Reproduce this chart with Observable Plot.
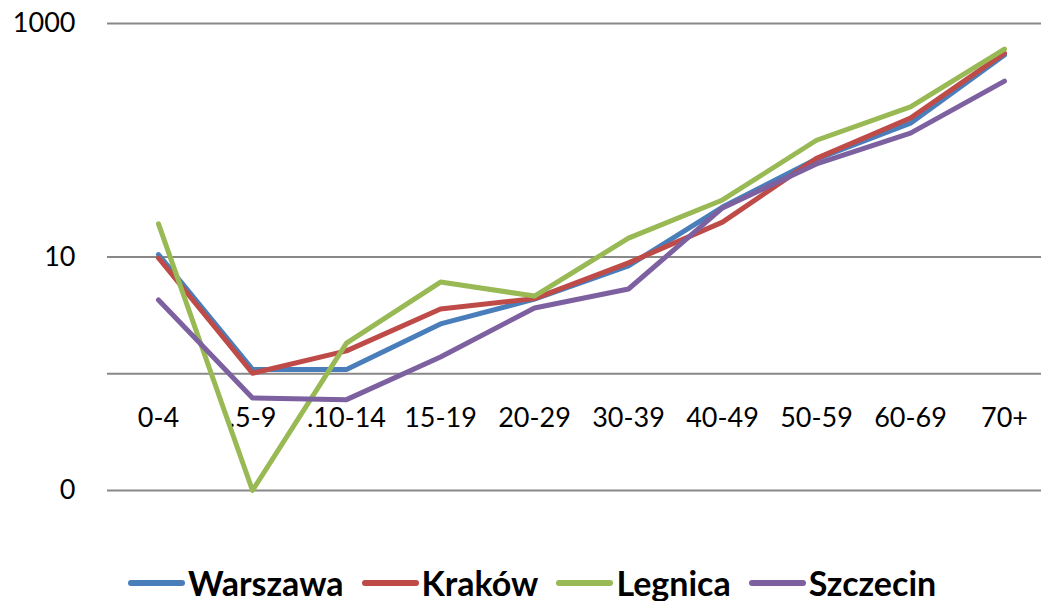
<!DOCTYPE html>
<html><head><meta charset="utf-8">
<script src="https://cdn.jsdelivr.net/npm/d3@7"></script>
<script src="https://cdn.jsdelivr.net/npm/@observablehq/plot@0.6"></script>
<style>
body{margin:0;background:#fff;font-family:Lato,sans-serif;}
#legend{display:flex;align-items:center;padding-left:128px;height:36px;margin-top:35px;}
.item{display:flex;align-items:center;margin-right:18px;}
.sw{width:57px;height:6px;border-radius:3px;margin-right:3px;}
.lab{font-weight:bold;font-size:34px;color:#000;line-height:1;}
</style></head><body>
<div id="chart"></div><div id="legend"></div>
<script>
const ageGroups = ["0-4", ".5-9", ".10-14", "15-19", "20-29", "30-39", "40-49", "50-59", "60-69", "70+"];
const cities = ["Warszawa", "Kraków", "Legnica", "Szczecin"];
const colors = ["#4A7EBB", "#BE4B48", "#98B954", "#7D60A0"];
const warszawa = [10.5, 1.09, 1.09, 2.67, 4.36, 8.4, 26.8, 69, 140, 537];
const krakow   = [9.8, 1.01, 1.57, 3.59, 4.4, 8.9, 19.9, 70, 155, 558];
const legnica  = [19.2, 0.1, 1.83, 6.1, 4.63, 14.5, 30.8, 100, 193, 604];
const szczecin = [4.29, 0.62, 0.60, 1.39, 3.66, 5.32, 26.3, 62.7, 115, 321];
const yTicks = [0.1, 10, 1000];
const gridValues = [0.1, 1, 10, 1000];

const seriesValues = [warszawa, krakow, legnica, szczecin];
const data = [];
cities.forEach((c, i) => ageGroups.forEach((a, j) => data.push({city: c, age: a, value: seriesValues[i][j]})));

const chart = Plot.plot({
  width: 1041,
  height: 530,
  marginLeft: 107,
  marginRight: 0,
  marginTop: 0,
  marginBottom: 0,
  style: {fontFamily: "Lato, sans-serif", fontSize: "27px", color: "#000", background: "#fff"},
  x: {type: "point", domain: ageGroups, range: [154, 1008], padding: 0, axis: null},
  y: {type: "log", domain: [0.1, 1000], range: [490, 23], label: null},
  color: {domain: cities, range: colors},
  marks: [
    Plot.ruleY(gridValues, {stroke: "#888888", strokeWidth: 2}),
    Plot.axisY({ticks: yTicks, tickSize: 0, tickPadding: 32, tickFormat: d => d < 1 ? "0" : String(d), fontSize: 27, fill: "#000", label: null}),
    Plot.text(ageGroups, {x: d => d, y: () => 1, dy: 45, fontSize: 27, fill: "#000"}),
    Plot.line(data, {x: "age", y: "value", z: "city", stroke: "city", strokeWidth: 5, strokeLinejoin: "round", strokeLinecap: "round"})
  ]
});
document.getElementById("chart").appendChild(chart);

const legend = document.getElementById("legend");
cities.forEach((c, i) => {
  const item = document.createElement("div");
  item.className = "item";
  item.innerHTML = `<div class="sw" style="background:${colors[i]}"></div><div class="lab">${c}</div>`;
  legend.appendChild(item);
});
</script>
</body></html>
